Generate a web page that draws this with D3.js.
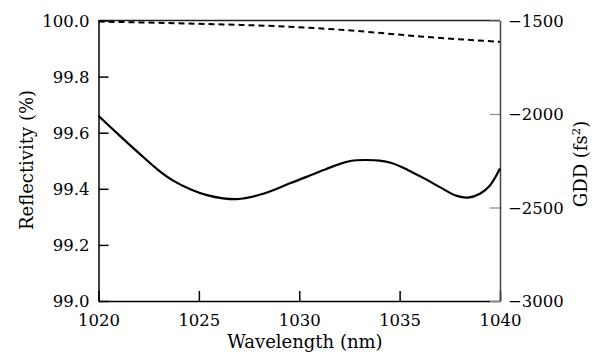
<!DOCTYPE html>
<html><head><meta charset="utf-8">
<script src="https://cdn.jsdelivr.net/npm/d3@7"></script>
<style>body{margin:0;background:#fff}svg{display:block}text{font-family:"DejaVu Serif","Liberation Serif",serif;fill:#000}</style>
</head><body><svg id="c" width="594" height="352"></svg>
<script>
const wavelengthTicks = [1020, 1025, 1030, 1035, 1040];
const reflTicks = [99.0, 99.2, 99.4, 99.6, 99.8, 100.0];
const gddTicks = [-3000, -2500, -2000, -1500];
// Reflectivity (dashed, left axis)
const reflWl = [1020, 1022.9, 1026.2, 1029.5, 1032.9, 1036.2, 1040];
const reflVal = [99.996, 99.992, 99.986, 99.978, 99.9625, 99.942, 99.924];
// GDD (solid, right axis)
const gddWl = [1020, 1021, 1022, 1022.9, 1023.7, 1024.6, 1025.4, 1026.2, 1026.9, 1027.9, 1028.7, 1029.5, 1030.4, 1031.2, 1032.0, 1032.6, 1033.3, 1034.0, 1034.6, 1035.4, 1036.2, 1037.0, 1037.85, 1038.4, 1039.0, 1039.5, 1040];
const gddVal = [-2010, -2110, -2208, -2293, -2355, -2404, -2434, -2451, -2455, -2436, -2408, -2372, -2335, -2300, -2268, -2250, -2246, -2249, -2262, -2299, -2343, -2391, -2438, -2447, -2426, -2382, -2292];

const svg = d3.select("#c");
const L = 98.5, R = 500, T = 20.5, B = 301;
const x = d3.scaleLinear().domain([1020, 1040]).range([L, R]);
const yL = d3.scaleLinear().domain([99, 100]).range([B, T]);
const yR = d3.scaleLinear().domain([-3000, -1500]).range([B, T]);
const fs = 16.5, ft = 18;
const FF = "DejaVu Serif, Liberation Serif, serif";

svg.append("line").attr("x1", L).attr("x2", R).attr("y1", T).attr("y2", T).attr("stroke", "#222").attr("stroke-width", 1.3);

const gx = svg.append("g").attr("transform", `translate(0,${B})`)
  .call(d3.axisBottom(x).tickValues(wavelengthTicks).tickSizeInner(-10).tickSizeOuter(0).tickPadding(13).tickFormat(d3.format("d")));
const gl = svg.append("g").attr("transform", `translate(${L},0)`)
  .call(d3.axisLeft(yL).tickValues(reflTicks).tickSizeInner(-10).tickSizeOuter(0).tickPadding(9).tickFormat(d3.format(".1f")));
const gr = svg.append("g").attr("transform", `translate(${R},0)`)
  .call(d3.axisRight(yR).tickValues(gddTicks).tickSizeInner(-10).tickSizeOuter(0).tickPadding(8).tickFormat(d => d3.format("d")(d).replace("-", "\u2212")));
[gx, gl].forEach(g => { g.selectAll("path,line").attr("stroke", "#000").attr("stroke-width", 1.5); });
gr.selectAll("path").attr("stroke", "#444").attr("stroke-width", 1.5);
gr.selectAll("line").attr("stroke", "#888").attr("stroke-width", 1.2);
svg.selectAll(".tick text").attr("font-family", FF).attr("font-size", fs).attr("fill", "#000");
gx.selectAll(".tick text").attr("dy", "0.75em");
gl.selectAll(".tick text").attr("dy", "0.36em");
gr.selectAll(".tick text").attr("dy", "0.36em");

const line1 = d3.line().x((d, i) => x(reflWl[i])).y(d => yL(d)).curve(d3.curveMonotoneX);
svg.append("path").datum(reflVal).attr("d", line1).attr("fill", "none").attr("stroke", "#000").attr("stroke-width", 2).attr("stroke-dasharray", "6,4");
const line2 = d3.line().x((d, i) => x(gddWl[i])).y(d => yR(d)).curve(d3.curveCatmullRom);
svg.append("path").datum(gddVal).attr("d", line2).attr("fill", "none").attr("stroke", "#000").attr("stroke-width", 2.2);

svg.append("text").attr("x", 305).attr("y", 348).attr("text-anchor", "middle").attr("font-size", ft).text("Wavelength (nm)");
svg.append("text").attr("transform", `translate(27,160) rotate(-90)`).attr("text-anchor", "middle").attr("dy", "0.36em").attr("font-size", ft).text("Reflectivity (%)");
const g = svg.append("text").attr("transform", `translate(581,164) rotate(-90)`).attr("text-anchor", "middle").attr("dy", "0.36em").attr("font-size", ft);
g.append("tspan").text("GDD (fs");
g.append("tspan").attr("baseline-shift", "super").attr("font-size", ft * 0.65).text("2");
g.append("tspan").text(")");
</script></body></html>
